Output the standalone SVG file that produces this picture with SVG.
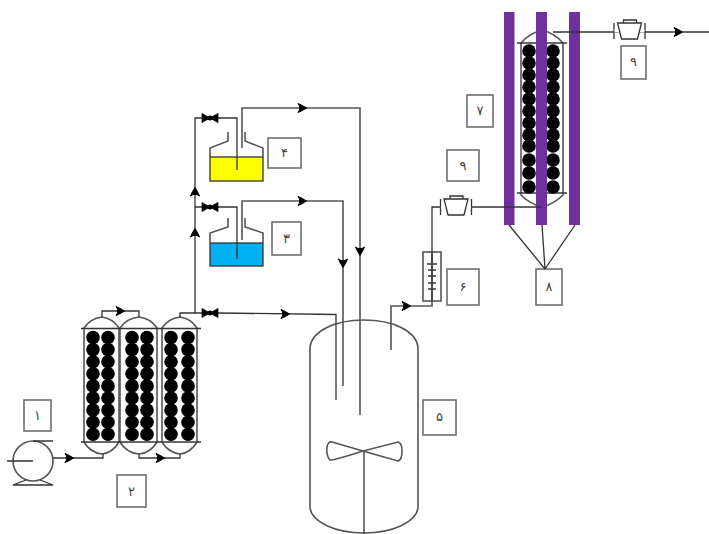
<svg xmlns="http://www.w3.org/2000/svg" xmlns:xlink="http://www.w3.org/1999/xlink" width="709" height="534" viewBox="0 0 709 534">
<style>
.s{fill:none;stroke:#333;stroke-width:1.300}
.c{fill:none;stroke:#555;stroke-width:1.600}
.box{fill:#fff;stroke:#666;stroke-width:1.500}
.b{fill:#000}
.bar{fill:#7030a0}
.t{font-family:"DejaVu Sans",sans-serif;font-size:13px;text-anchor:middle;fill:#444}
.a{fill:none;stroke:none;marker-end:url(#ah)}
</style>
<defs>
<marker id="ah" markerUnits="userSpaceOnUse" markerWidth="14" markerHeight="14" refX="7" refY="7" orient="auto" viewBox="0 0 14 14">
<path d="M3 2.500 Q7 4 11.500 7 Q7 10 3 11.500 Q6.500 7 3 2.500 Z" fill="#000" stroke="#000" stroke-width="1"/>
</marker>
<g id="valve"><path d="M-8 -4.500 L8 4.500 L8 -4.500 L-8 4.500 Z" fill="#000" stroke="#000" stroke-width="0.800"/><circle r="2.500" fill="#000"/></g>
<g id="reg"><path d="M-15.500 -8 V8 M15.500 -8 V8" fill="none" stroke="#333" stroke-width="1.300"/><rect x="-15" y="-1.500" width="30" height="3" fill="#fff"/><path d="M-12 -8 H12 L8 8 H-8 Z" fill="#fff" stroke="#333" stroke-width="1.300"/><path d="M-6 -8 V-11 H7 V-8" fill="none" stroke="#333" stroke-width="1.300"/></g>
<g id="balls3" class="b"><circle cx="0" cy="0" r="6.800"/><circle cx="0" cy="12.100" r="6.800"/><circle cx="0" cy="24.200" r="6.800"/><circle cx="0" cy="36.300" r="6.800"/><circle cx="0" cy="48.400" r="6.800"/><circle cx="0" cy="60.500" r="6.800"/><circle cx="0" cy="72.600" r="6.800"/><circle cx="0" cy="84.700" r="6.800"/><circle cx="0" cy="96.800" r="6.800"/></g>
</defs>
<rect width="709" height="534" fill="#fff"/>

<g id="pump">
<circle cx="33" cy="461" r="20" class="c"/>
<path d="M33 441 H53 M7 461 H33 M26 480 L13 485 H53 L40 480" class="s"/>
</g>
<g id="label-1"><rect x="24" y="400" width="27" height="31" class="box"/><text x="37.500" y="420" class="t">۱</text></g>
<g id="label-2"><rect x="117" y="475" width="29" height="32" class="box"/><text x="131.500" y="496" class="t">۲</text></g>

<g id="column-a"><path d="M84 328 C88 322 94 318 102 317 C110 318 115 322 119 328 V442 C115 449 110 453 102 454 C94 453 88 449 84 442 Z" class="c"/><use xlink:href="#balls3" x="93" y="337.500"/><use xlink:href="#balls3" x="108" y="337.500"/></g>
<g id="column-b"><path d="M120 328 C124 322 130 318 139 317 C148 318 153 322 157 328 V442 C153 449 148 453 139 454 C130 453 124 449 120 442 Z" class="c"/><use xlink:href="#balls3" x="132" y="337.500"/><use xlink:href="#balls3" x="147" y="337.500"/></g>
<g id="column-c"><path d="M162 328 C166 322 172 318 180 317 C188 318 193 322 197 328 V442 C193 449 188 453 180 454 C172 453 166 449 162 442 Z" class="c"/><use xlink:href="#balls3" x="171" y="337.500"/><use xlink:href="#balls3" x="188" y="337.500"/></g>
<path d="M81 328.500 H201 M81 442 H201" class="s"/>

<g id="bottle-4">
<rect x="210" y="157" width="53" height="24" fill="#ffff00" stroke="#333" stroke-width="1.300"/>
<path d="M210 157 V148 L228 141 V132 M263 157 V148 L245 141 V132" class="c"/>
</g>
<g id="bottle-3">
<rect x="210" y="243" width="53" height="23" fill="#00b0f0" stroke="#333" stroke-width="1.300"/>
<path d="M210 243 V233 L228 227 V218 M263 243 V233 L245 227 V218" class="c"/>
</g>
<g id="label-4"><rect x="268" y="138" width="33" height="30" class="box"/><text x="284.500" y="157" class="t">۴</text></g>
<g id="label-3"><rect x="272" y="222" width="29" height="33" class="box"/><text x="286.500" y="243" class="t">۳</text></g>

<g id="reactor">
<path d="M310 347 C312 331 335 320 364 320 C393 320 416 331 418 347 V508 C416 522 393 533 364 533 C335 533 312 522 310 508 Z" class="c"/>
<path d="M364 534 V451" class="s"/>
<path d="M363 451 L332 442 Q328 441 327 447 Q326 456 330 460 Q332 461 363 451 Z" class="c"/>
<path d="M363 451 L398 442 Q402 443 402 451 Q402 460 398 461 Z" class="c"/>
</g>
<g id="label-5"><rect x="423" y="400" width="33" height="35" class="box"/><text x="439.500" y="421" class="t">۵</text></g>

<g id="flowmeter">
<rect x="423" y="252" width="18" height="49" class="c"/>
<path d="M427 264 H437 M428 270 H436 M428 276 H436 M428 283 H436 M428 289 H436" class="s"/>
</g>
<g id="label-6"><rect x="447" y="269" width="32" height="36" class="box"/><text x="463" y="291" class="t">۶</text></g>
<g id="label-9a"><rect x="447" y="150" width="32" height="31" class="box"/><text x="463" y="170" class="t">۹</text></g>
<g id="label-7"><rect x="467" y="95" width="26" height="32" class="box"/><text x="480" y="115" class="t">۷</text></g>
<g id="label-8"><rect x="536" y="269" width="26" height="36" class="box"/><text x="549" y="291" class="t">۸</text></g>
<g id="label-9b"><rect x="621" y="46" width="25" height="33" class="box"/><text x="633.500" y="66" class="t">۹</text></g>

<g id="column-7">
<path d="M521 43 C527 36 534 32 542 30 C550 32 557 36 563 43 V195 C557 201 550 205 542 207 C534 205 527 201 521 195 Z" class="c"/>
<path d="M517 43 H567 M517 193 H567" class="s"/>
<g class="b">
<circle cx="529" cy="51" r="6.800"/><circle cx="529" cy="63" r="6.800"/><circle cx="529" cy="75" r="6.800"/><circle cx="529" cy="87" r="6.800"/><circle cx="529" cy="99" r="6.800"/><circle cx="529" cy="111" r="6.800"/><circle cx="529" cy="123" r="6.800"/><circle cx="529" cy="135" r="6.800"/><circle cx="529" cy="146" r="6.800"/><circle cx="529" cy="160" r="6.800"/><circle cx="529" cy="173" r="6.800"/><circle cx="529" cy="187" r="6.800"/>
<circle cx="553" cy="51" r="6.800"/><circle cx="553" cy="63" r="6.800"/><circle cx="553" cy="75" r="6.800"/><circle cx="553" cy="87" r="6.800"/><circle cx="553" cy="99" r="6.800"/><circle cx="553" cy="111" r="6.800"/><circle cx="553" cy="123" r="6.800"/><circle cx="553" cy="135" r="6.800"/><circle cx="553" cy="146" r="6.800"/><circle cx="553" cy="160" r="6.800"/><circle cx="553" cy="173" r="6.800"/><circle cx="553" cy="187" r="6.800"/>
</g>
</g>
<g id="lamps">
<rect x="504" y="12" width="10.500" height="213" class="bar"/>
<rect x="536" y="12" width="11" height="213" class="bar"/>
<rect x="569" y="12" width="11" height="213" class="bar"/>
</g>

<g id="connectors">
<path class="s" d="M53 458 H103 V454"/>
<path class="s" d="M102 317 V311 H139 V317"/>
<path class="s" d="M139 454 V458 H180 V454"/>
<path class="s" d="M180 317 V313 H195"/>
<path class="s" d="M195 313 V118 H237 V170"/>
<path class="s" d="M195 207 H237 V259"/>
<path class="s" d="M195 313 H218 L336 314.500 V400"/>
<path class="c" d="M242 148 V108 H360 V415"/>
<path class="c" d="M242 240 V201 H343 V386"/>
<path class="c" d="M391 350 V306 H432 V252"/>
<path class="s" d="M432 252 V207 H542"/>
<path class="s" d="M432 252 V301"/>
<path class="s" d="M553 32 H709"/>
<path class="s" d="M509 225 L545 269 M542 225 L545 269 M575 225 L545 269"/>
<path class="a" d="M68 458 h1"/>
<path class="a" d="M119 311 h1"/>
<path class="a" d="M159 458 h1"/>
<path class="a" d="M284 314 h1"/>
<path class="a" d="M301 108 h1"/>
<path class="a" d="M301 201 h1"/>
<path class="a" d="M405 306 h1"/>
<path class="a" d="M677 32 h1"/>
<path class="a" d="M195 193 v-1"/>
<path class="a" d="M195 234 v-1"/>
<path class="a" d="M360 250 v1"/>
<path class="a" d="M343 262 v1"/>
<use xlink:href="#valve" x="210" y="118"/>
<use xlink:href="#valve" x="210" y="207"/>
<use xlink:href="#valve" x="210" y="313"/>
<use xlink:href="#reg" x="456" y="207"/>
<use xlink:href="#reg" x="629.500" y="31"/>
</g>
</svg>
